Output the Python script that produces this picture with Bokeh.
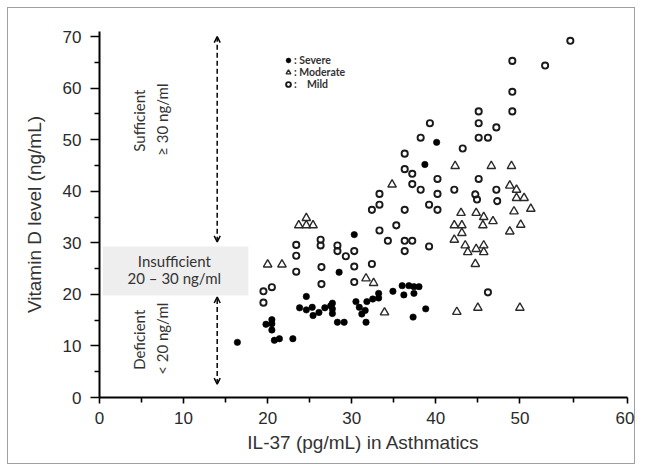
import math
from bokeh.plotting import figure
from bokeh.models import (Range1d, FixedTicker, BoxAnnotation, Arrow, OpenHead,
                          Label, Legend, LegendItem)
from bokeh.embed import file_html
from bokeh.resources import INLINE

# ---- data ----
severe_x = [16.4, 19.8, 20.5, 20.5, 20.5, 20.8, 21.4, 23.0, 24.6, 23.8, 24.6, 25.3, 25.4,
            26.1, 26.8, 27.5, 27.7, 27.7, 27.7, 28.3, 29.1, 28.5, 30.3, 30.5, 30.9, 31.2,
            31.6, 31.7, 31.8, 32.5, 33.2, 33.2, 34.9, 36.0, 36.2, 36.8, 37.4, 37.4, 38.0,
            37.3, 38.8, 38.7, 40.1]
severe_y = [10.7, 14.2, 15.1, 14.3, 13.1, 11.1, 11.4, 11.4, 19.6, 17.4, 17.0, 17.5, 15.9,
            16.5, 17.4, 17.8, 18.3, 17.2, 16.3, 14.6, 14.6, 24.3, 31.6, 18.6, 17.5, 16.2,
            16.9, 14.6, 18.6, 19.1, 19.3, 20.2, 20.6, 21.7, 19.9, 21.7, 21.5, 20.2, 21.5,
            15.6, 17.2, 45.2, 49.5]

moderate_x = [20.0, 21.7, 24.6, 23.7, 24.6, 25.4, 31.7, 32.6, 33.9, 34.8, 42.3, 46.6, 49.0,
              48.8, 49.6, 49.6, 50.5, 51.3, 49.3, 50.1, 48.8, 43.0, 44.8, 45.7, 46.8, 45.6,
              42.2, 43.1, 43.1, 42.2, 43.5, 43.8, 44.8, 45.7, 45.7, 44.7, 42.5, 45.0, 50.0]
moderate_y = [25.8, 25.8, 34.8, 33.4, 33.4, 33.4, 23.1, 22.2, 16.5, 41.3, 44.9, 44.9, 44.9,
              41.1, 40.3, 38.7, 38.7, 36.6, 36.1, 33.5, 32.2, 35.8, 35.8, 35.0, 34.2, 33.4,
              33.4, 33.4, 31.9, 30.6, 29.5, 28.2, 28.8, 29.5, 28.2, 25.9, 16.6, 17.4, 17.4]

mild_x = [19.5, 19.5, 20.5, 23.4, 23.4, 23.4, 26.3, 26.3, 26.4, 26.4, 28.3, 28.3, 29.3, 30.3,
          30.3, 30.3, 32.4, 32.4, 33.3, 33.3, 33.3, 34.3, 35.3, 36.3, 36.3, 37.2, 36.3, 36.3,
          36.3, 37.2, 37.2, 38.2, 38.2, 39.3, 39.2, 39.2, 40.2, 40.2, 40.2, 42.2, 43.2, 44.7,
          44.9, 45.1, 45.1, 46.2, 45.1, 45.1, 47.2, 47.2, 47.3, 46.2, 49.1, 49.1, 49.1, 53.0,
          56.0]
mild_y = [18.4, 20.6, 21.4, 29.6, 27.5, 24.4, 30.6, 29.5, 25.3, 22.0, 29.5, 28.4, 27.4, 28.4,
          25.4, 22.4, 25.9, 36.4, 37.4, 39.5, 32.4, 30.4, 33.4, 36.4, 30.4, 30.4, 28.4, 47.3,
          44.3, 43.4, 41.4, 40.3, 50.4, 53.2, 37.4, 29.3, 42.4, 39.5, 36.4, 40.3, 48.3, 39.4,
          38.4, 42.4, 50.4, 50.4, 53.2, 55.5, 52.4, 40.3, 38.1, 20.4, 55.5, 59.3, 65.3, 64.4,
          69.2]

legend_labels = [": Severe", ": Moderate", ":\u00a0\u00a0\u00a0\u00a0Mild"]

x_tick_values = [0, 10, 20, 30, 40, 50, 62.8]
x_tick_labels = ["0", "10", "20", "30", "40", "50", "60"]
x_minor_values = [5, 15, 25, 35, 45, 56.4]
y_tick_values = [0, 10, 20, 30, 40, 50, 60, 70]
y_minor_values = [5, 15, 25, 35, 45, 55, 65]

AX_FONT = "Liberation Sans"
ANN_FONT = "Lato"

p = figure(width=628, height=457, output_backend="svg", toolbar_location=None,
           x_range=Range1d(0, 62.8), y_range=Range1d(0, 71),
           min_border_left=91, min_border_right=9, min_border_top=23, min_border_bottom=68)
p.styles = {"margin": "7px 0px 0px 7px", "border": "1px solid #a0a0a0"}
p.outline_line_color = None
p.xgrid.visible = False
p.ygrid.visible = False
p.background_fill_color = "white"
p.border_fill_color = "white"

# insufficient band
p.add_layout(BoxAnnotation(left=0.4, right=17.7, bottom=19.8, top=29.3,
                           fill_color="#eeeeee", fill_alpha=1, line_color=None,
                           level="underlay"))

# axes
xa = p.xaxis[0]
xa.ticker = FixedTicker(ticks=x_tick_values, minor_ticks=x_minor_values)
xa.major_label_overrides = {v: s for v, s in zip(x_tick_values, x_tick_labels)}
ya = p.yaxis[0]
ya.ticker = FixedTicker(ticks=y_tick_values, minor_ticks=y_minor_values)
for ax in (xa, ya):
    ax.axis_line_width = 2
    ax.axis_line_color = "black"
    ax.major_tick_line_width = 1.6
    ax.minor_tick_line_width = 1.6
    ax.major_tick_line_color = "black"
    ax.minor_tick_line_color = "black"
    ax.major_tick_in = 0
    ax.minor_tick_in = 0
    ax.major_label_text_font = AX_FONT
    ax.major_label_text_font_size = "17px"
    ax.major_label_text_color = "#2a2a2a"
    ax.axis_label_text_font = AX_FONT
    ax.axis_label_text_font_size = "19px"
    ax.axis_label_text_font_style = "normal"
    ax.axis_label_text_color = "#333333"
xa.major_tick_out = 6
xa.minor_tick_out = 5
xa.major_label_standoff = 8
xa.axis_label = "IL-37 (pg/mL) in Asthmatics"
xa.axis_label_standoff = 5
ya.major_tick_out = 9
ya.minor_tick_out = 5
ya.major_label_standoff = 9
ya.axis_label = "Vitamin D level (ng/mL)"
ya.axis_label_standoff = 15

# data
r_sev = p.scatter(severe_x, severe_y, marker="circle", size=6.4,
                  fill_color="black", line_color="black", line_width=0.6)
r_mod = p.scatter(moderate_x, moderate_y, marker="triangle", size=8.5,
                  fill_color=None, line_color="#2a2a2a", line_width=1.4)
r_mild = p.scatter(mild_x, mild_y, marker="circle", size=6.2,
                   fill_color=None, line_color="#1a1a1a", line_width=1.9)

# legend: one small legend per entry so the rows sit close together
for label, rend, ypos in zip(legend_labels, (r_sev, r_mod, r_mild), (331, 319, 307)):
    lg = Legend(items=[LegendItem(label=label, renderers=[rend])],
                location=(183, ypos), glyph_width=12, glyph_height=12, spacing=0,
                label_standoff=-1, padding=0, margin=0, label_height=11,
                label_text_font=ANN_FONT, label_text_font_size="10.5px",
                label_text_font_style="bold", label_text_color="#333333",
                border_line_color=None, background_fill_alpha=0)
    p.add_layout(lg)

# dashed arrows
for ys, ye in ((30.2, 70.0), (2.6, 19.5)):
    p.add_layout(Arrow(start=OpenHead(size=6, line_width=1.5), end=OpenHead(size=6, line_width=1.5),
                       x_start=14.0, y_start=ys, x_end=14.0, y_end=ye,
                       line_dash="5 3", line_width=1.6, line_color="#111111"))

# annotation texts
def lab(x, y, text, angle=0.0):
    p.add_layout(Label(x=x, y=y, text=text, angle=angle, text_align="center",
                       text_baseline="middle", text_font=ANN_FONT, text_font_size="15px",
                       text_color="#333333"))

lab(4.7, 53.7, "Sufficient", math.pi / 2)
lab(7.4, 53.9, "\u2265 30 ng/ml", math.pi / 2)
lab(4.7, 11.2, "Deficient", math.pi / 2)
lab(7.4, 11.4, "< 20 ng/ml", math.pi / 2)
lab(8.9, 26.5, "Insufficient")
lab(8.9, 23.1, "20 \u2013 30 ng/ml")

open("out.html", "w").write(file_html(p, INLINE))
